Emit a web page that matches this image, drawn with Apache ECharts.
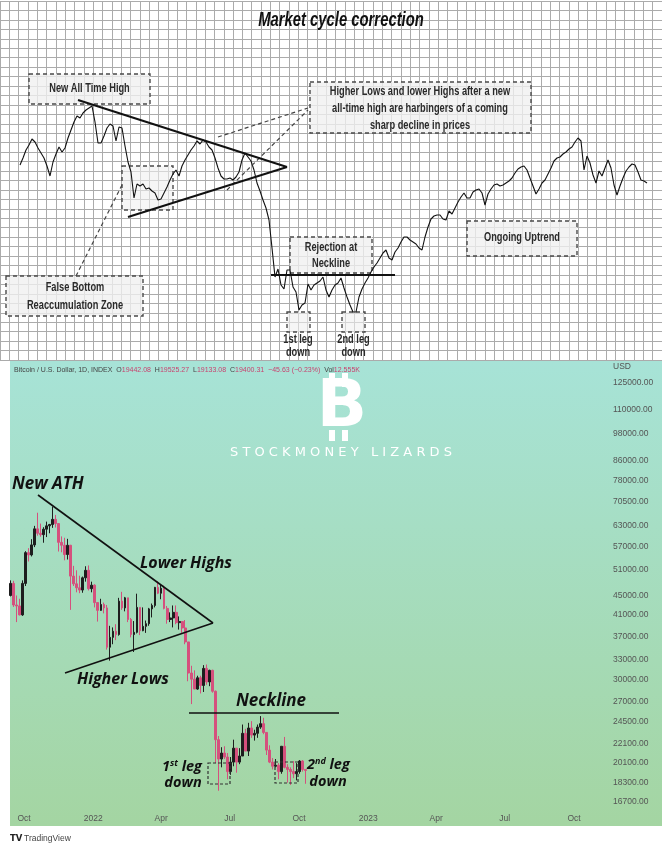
<!DOCTYPE html>
<html><head><meta charset="utf-8">
<script src="https://cdn.jsdelivr.net/npm/echarts@6/dist/echarts.min.js"></script>
<style>html,body{margin:0;padding:0;background:#fff}#c{width:662px;height:850px}</style>
</head><body><div id="c"></div>
<script>
// ---------- Top schematic chart: index level at equally spaced sessions ----------
const topLevels = [
 195,202,210,215,221,218,212,207,202,194,
 184,198,206,213,208,212,222,230,238,244,
 242,247,250,252,254,238,217,217,224,232,
 236,234,219,233,232,214,198,188,162,176,
 174,176,171,172,169,167,160,161,167,173,
 180,186,190,184,194,200,205,210,214,219,
 216,220,218,213,210,202,192,184,181,181,
 182,180,183,188,200,207,203,199,190,177,
 169,160,152,140,112,83,91,75,71,90,
 90,73,68,50,55,57,76,70,75,77,
 79,83,70,63,70,75,77,82,72,63,
 55,48,48,63,71,77,82,88,93,97,
 102,107,110,102,100,108,112,118,123,123,
 120,118,116,112,110,123,133,141,144,145,
 145,141,140,149,146,152,158,163,167,162,
 162,168,170,171,167,155,166,171,175,176,
 174,175,177,179,182,187,191,193,194,190,
 182,174,166,171,177,180,186,192,199,202,
 203,206,208,211,213,218,222,219,190,204,
 197,185,177,189,184,192,200,192,175,165,
 174,182,189,193,196,195,188,180,179,177
];

// ---------- Bitcoin candles (4-day periods) ----------
const btcDates = [
 '2021-09-13','2021-09-17','2021-09-21','2021-09-25','2021-09-29',
 '2021-10-03','2021-10-07','2021-10-11','2021-10-15','2021-10-19','2021-10-23','2021-10-27','2021-10-31',
 '2021-11-04','2021-11-08','2021-11-12','2021-11-16','2021-11-20','2021-11-24','2021-11-28',
 '2021-12-02','2021-12-06','2021-12-10','2021-12-14','2021-12-18','2021-12-22','2021-12-26','2021-12-30',
 '2022-01-03','2022-01-07','2022-01-11','2022-01-15','2022-01-19','2022-01-23','2022-01-27','2022-01-31',
 '2022-02-04','2022-02-08','2022-02-12','2022-02-16','2022-02-20','2022-02-24','2022-02-28',
 '2022-03-04','2022-03-08','2022-03-12','2022-03-16','2022-03-20','2022-03-24','2022-03-28',
 '2022-04-01','2022-04-05','2022-04-09','2022-04-13','2022-04-17','2022-04-21','2022-04-25','2022-04-29',
 '2022-05-03','2022-05-07','2022-05-11','2022-05-15','2022-05-19','2022-05-23','2022-05-27','2022-05-31',
 '2022-06-04','2022-06-08','2022-06-12','2022-06-16','2022-06-20','2022-06-24','2022-06-28',
 '2022-07-02','2022-07-06','2022-07-10','2022-07-14','2022-07-18','2022-07-22','2022-07-26','2022-07-30',
 '2022-08-03','2022-08-07','2022-08-11','2022-08-15','2022-08-19','2022-08-23','2022-08-27','2022-08-31',
 '2022-09-04','2022-09-08','2022-09-12','2022-09-16','2022-09-20','2022-09-24','2022-09-28',
 '2022-10-02','2022-10-06','2022-10-10'
];
// [open, close, low, high]
const btcOHLC = [
 [45000,47700,44800,48400],[47700,43000,42600,48300],[43000,42800,39600,45000],[42800,41000,40900,44300],[41000,47700,40800,48400],
 [47700,55300,47100,55700],[55300,54700,53000,56500],[54700,57400,54300,59000],[57400,62000,56800,62900],[62000,60700,60000,67000],[60700,60300,59700,63600],[60300,61900,58000,62500],[61900,62900,59600,64200],
 [62900,63300,60700,63500],[63300,64900,62300,69000],[64900,63600,62400,66300],[63600,58100,55600,63600],[58100,57300,55400,59800],[57300,54800,53300,59400],[54800,57300,53500,59100],
 [57300,49400,42000,57400],[49400,47600,47100,51900],[47600,46700,45700,50800],[46700,46200,45500,49500],[46200,49000,45600,49300],[49000,50800,48100,51800],[50800,46500,46100,52000],[46500,47300,45700,48100],
 [47300,43500,42500,47500],[43500,41900,39700,43500],[41900,43100,41800,44300],[43100,42400,41300,43500],[42400,35100,34700,43000],[35100,36800,32900,38900],[36800,37900,35600,38600],[37900,37300,36300,39200],
 [37300,43800,37100,44500],[43800,42400,42000,45800],[42400,44500,41700,44700],[44500,40100,39600,44500],[40100,37300,36800,40400],[37300,37700,34300,39800],[37700,42500,37500,45400],
 [42500,38000,37200,42500],[38000,38800,37900,42500],[38800,39300,37600,39900],[39300,42200,38900,42400],[42200,42900,40500,43300],[42900,46800,42500,46900],[46800,45500,45300,48200],
 [45500,46600,44200,47400],[46600,42300,42100,47200],[42300,40100,39300,42800],[40100,40400,39600,41500],[40400,41500,38600,42900],[41500,39500,39200,42900],[39500,39700,38200,40700],[39700,38500,37600,39800],
 [38500,36000,35600,40000],[36000,31000,29800,36000],[31000,30100,26700,32100],[30100,28700,28700,31400],[28700,30300,28600,30600],[30300,29200,28100,30600],[29200,31700,28300,32200],[31700,29700,29300,32300],
 [29700,31400,29100,31500],[31400,28400,28200,31500],[28400,22500,20100,28500],[22500,20500,17600,22900],[20500,21100,19700,21700],[21100,20700,20500,21800],[20700,19300,18600,21100],
 [19300,20200,19000,20700],[20200,21600,19800,22500],[21600,20200,19200,21600],[20200,20800,20000,21600],[20800,23200,20800,24200],[23200,21300,21300,23700],[21300,23800,20800,24400],[23800,23000,22700,24600],
 [23000,23200,22400,23600],[23200,23900,22700,24200],[23900,24300,23700,25200],[24300,23300,23100,25000],[23300,21400,20900,23300],[21400,20200,20100,21900],[20200,19800,19500,20600],[19800,19900,19700,20500],
 [19900,19300,18600,20100],[19300,21800,19100,21800],[21800,19700,19600,22800],[19700,19500,18300,20000],[19500,19300,18100,19700],[19300,19100,18700,20300],[19100,19300,18500,20100],
 [19300,20300,19100,20400],[20300,19500,19300,20400],[19500,19400,18200,19500]
];

const priceTicks = [125000,110000,98000,86000,78000,70500,63000,57000,51000,45000,41000,37000,33000,30000,27000,24500,22100,20100,18300,16700];
const timeTicks = ['2021-10-01','2022-01-01','2022-04-01','2022-07-01','2022-10-01','2023-01-01','2023-04-01','2023-07-01','2023-10-01'];
const monthNames = ['Jan','Feb','Mar','Apr','May','Jun','Jul','Aug','Sep','Oct','Nov','Dec'];

function localTs(s){ const p = s.split('-').map(Number); return new Date(p[0], p[1]-1, p[2]).getTime(); }
const xMin = new Date(2021, 8, 12, 10).getTime();
const xMax = new Date(2023, 10, 13, 19).getTime();

const COND = '"Liberation Sans", "Arimo", sans-serif';
const ITAL = '"Open Sans", "Noto Sans", sans-serif';

function dashBox(x, y, w, h, fill){
  return {type:'rect', z:1, shape:{x:x, y:y, width:w, height:h},
    style:{fill: fill === undefined ? 'rgba(240,240,240,0.78)' : fill, stroke:'#4a4a4a', lineWidth:1.4, lineDash:[4,3]}};
}
function label(x, y, text, extra, sx){
  return {type:'text', z:101, x:x, y:y, scaleX: sx || 0.74, style:Object.assign({text:text, align:'center', verticalAlign:'middle',
    fontFamily:COND, fontSize:12.5, fontWeight:'bold', fill:'#2a2a2a'}, extra || {})};
}
function seg(x1, y1, x2, y2, w, dash, color){
  return {type:'line', z:100, shape:{x1:x1, y1:y1, x2:x2, y2:y2},
    style:{stroke: color || '#111', lineWidth:w, lineDash: dash || null}};
}
function ital(x, y, text, size, align){
  return {type:'text', z:101, x:x, y:y, style:{text:text, align: align || 'left', verticalAlign:'middle',
    fontFamily:ITAL, fontSize:size, fontWeight:'bold', fontStyle:'italic', fill:'#111'}};
}

const graphics = [
  {type:'rect', z:-10, shape:{x:10, y:361, width:652, height:465},
   style:{fill:new echarts.graphic.LinearGradient(0,0,0,1,[{offset:0,color:'#a7e3d7'},{offset:1,color:'#a4d5a2'}])}},
  label(341, 21, 'Market cycle correction', {fontSize:19.5, fontStyle:'italic', fill:'#111'}, 0.76),
  dashBox(29, 74, 121, 30), label(89.5, 89, 'New All Time High'),
  dashBox(310, 82, 221, 51),
  label(420, 92, 'Higher Lows and lower Highs after a new'),
  label(420, 109, 'all-time high are harbingers of a coming'),
  label(420, 126, 'sharp decline in prices'),
  dashBox(122, 166, 51, 44, 'rgba(240,240,240,0.6)'),
  dashBox(6, 276, 137, 40), label(75, 288, 'False Bottom'), label(75, 306, 'Reaccumulation Zone'),
  dashBox(290, 237, 82, 36), label(331, 248, 'Rejection at'), label(331, 264, 'Neckline'),
  dashBox(287, 312, 23, 20, 'rgba(240,240,240,0.6)'), label(298, 340, '1st leg'), label(298, 353, 'down'),
  dashBox(342, 312, 23, 20, 'rgba(240,240,240,0.6)'), label(353.5, 340, '2nd leg'), label(353.5, 353, 'down'),
  dashBox(467, 221, 110, 35), label(522, 238, 'Ongoing Uptrend'),
  seg(218, 137, 308, 108, 1.2, [4,3], '#444'),
  seg(227, 190, 308, 110, 1.2, [4,3], '#444'),
  seg(122, 185, 76, 276, 1.2, [4,3], '#444'),
  seg(78, 100, 287, 167, 2),
  seg(128, 217, 287, 167, 2),
  seg(271, 275, 395, 275, 2),
  {type:'text', z:101, x:14, y:370, style:{
    text:'{g|Bitcoin / U.S. Dollar, 1D, INDEX  O}{r|19442.08}{g|  H}{r|19525.27}{g|  L}{r|19133.08}{g|  C}{r|19400.31}{r|  \u221245.63 (\u22120.23%)}{g|  Vol}{r|12.555K}',
    align:'left', verticalAlign:'middle', fontFamily:'"Liberation Sans", sans-serif', fontSize:7,
    rich:{g:{fill:'#444', fontSize:7, fontFamily:'"Liberation Sans", sans-serif'}, r:{fill:'#c8436f', fontSize:7, fontFamily:'"Liberation Sans", sans-serif'}}}},
  {type:'text', z:101, x:613, y:367, style:{text:'USD', align:'left', verticalAlign:'middle', fontFamily:'"Liberation Sans", sans-serif', fontSize:8.5, fill:'#555'}},
  {type:'text', z:50, x:342, y:409, style:{text:'B', align:'center', verticalAlign:'middle', fontFamily:'"DejaVu Sans", sans-serif', fontWeight:'bold', fontSize:66, fill:'#ffffff'}},
  {type:'rect', z:50, shape:{x:329, y:373, width:6, height:14}, style:{fill:'#ffffff'}},
  {type:'rect', z:50, shape:{x:342, y:373, width:6, height:14}, style:{fill:'#ffffff'}},
  {type:'rect', z:50, shape:{x:329, y:430, width:6, height:11}, style:{fill:'#ffffff'}},
  {type:'rect', z:50, shape:{x:342, y:430, width:6, height:11}, style:{fill:'#ffffff'}},
  {type:'text', z:50, x:341, y:453, style:{text:'S T O C K M O N E Y   L I Z A R D S', align:'center', verticalAlign:'middle', fontFamily:'"DejaVu Sans", sans-serif', fontSize:13, fill:'#ffffff'}},
  ital(12, 484, 'New ATH', 17),
  ital(140, 563, 'Lower Highs', 16),
  ital(77, 679, 'Higher Lows', 16),
  ital(236, 701, 'Neckline', 17),
  seg(38, 495, 213, 623, 1.6),
  seg(65, 673, 213, 623, 1.6),
  seg(189, 713, 339, 713, 1.6),
  {type:'rect', z:100, shape:{x:208, y:763, width:22, height:21}, style:{fill:null, stroke:'#333', lineWidth:1.2, lineDash:[3,2]}},
  {type:'rect', z:100, shape:{x:275, y:762, width:23, height:21}, style:{fill:null, stroke:'#333', lineWidth:1.2, lineDash:[3,2]}},
  {type:'text', z:101, x:182, y:767, style:{text:'{a|1}{s|st}{a| leg}', align:'center', verticalAlign:'middle',
    rich:{a:{fontFamily:ITAL, fontSize:14.5, fontWeight:'bold', fontStyle:'italic', fill:'#111'}, s:{fontFamily:ITAL, fontSize:9, fontWeight:'bold', fontStyle:'italic', fill:'#111', verticalAlign:'top', padding:[0,0,8,0]}}}},
  ital(183, 783, 'down', 14.5, 'center'),
  {type:'text', z:101, x:307, y:765, style:{text:'{a|2}{s|nd}{a| leg}', align:'left', verticalAlign:'middle',
    rich:{a:{fontFamily:ITAL, fontSize:14.5, fontWeight:'bold', fontStyle:'italic', fill:'#111'}, s:{fontFamily:ITAL, fontSize:9, fontWeight:'bold', fontStyle:'italic', fill:'#111', verticalAlign:'top', padding:[0,0,8,0]}}}},
  ital(328, 782, 'down', 14.5, 'center'),
  {type:'text', z:101, x:10, y:839, style:{text:'TV', align:'left', verticalAlign:'middle', fontFamily:'"DejaVu Sans", sans-serif', fontWeight:'bold', fontSize:8.5, fill:'#222'}},
  {type:'text', z:101, x:24, y:839, style:{text:'TradingView', align:'left', verticalAlign:'middle', fontFamily:'"Liberation Sans", sans-serif', fontSize:8.5, fill:'#444'}}
];

const hiddenAxis = {axisLine:{show:false}, axisTick:{show:false}, axisLabel:{show:false}};
const option = {
  animation:false,
  backgroundColor:'#ffffff',
  grid:[
    {left:-4.76, top:1, width:671.4, height:359, show:false},
    {left:20, top:0, width:627, height:360, show:false},
    {left:10, top:362, width:597, height:446, show:false}
  ],
  xAxis:[
    Object.assign({gridIndex:0, type:'value', min:0, max:71, interval:1, splitLine:{show:true, lineStyle:{color:'#ababab', width:1}}}, hiddenAxis),
    {gridIndex:1, type:'category', data:topLevels.map((_, i) => i), boundaryGap:false, show:false},
    {gridIndex:2, type:'value', min:xMin, max:xMax, axisLine:{show:false}, axisTick:{show:false}, splitLine:{show:false},
     axisLabel:{customValues: timeTicks.map(localTs), hideOverlap:false, color:'#555', fontSize:8.5, margin:6,
       fontFamily:'"Liberation Sans", sans-serif',
       formatter: v => { const d = new Date(v); return d.getMonth() === 0 ? String(d.getFullYear()) : monthNames[d.getMonth()]; }}}
  ],
  yAxis:[
    Object.assign({gridIndex:0, type:'value', min:0, max:38, interval:1, splitLine:{show:true, lineStyle:{color:'#ababab', width:1}}}, hiddenAxis),
    {gridIndex:1, type:'value', min:0, max:360, show:false},
    {gridIndex:2, type:'log', position:'right', min:16200, max:138300, axisLine:{show:false}, axisTick:{show:false}, splitLine:{show:false},
     axisLabel:{customValues: priceTicks, hideOverlap:false, color:'#555', fontSize:8.5, margin:6, align:'left',
       fontFamily:'"Liberation Sans", sans-serif', formatter: v => Number(v).toFixed(2)}}
  ],
  series:[
    {type:'line', xAxisIndex:1, yAxisIndex:1, data:topLevels, showSymbol:false, symbol:'none',
     lineStyle:{color:'#111', width:1.1}, z:3},
    {type:'candlestick', xAxisIndex:2, yAxisIndex:2, barWidth:2.2,
     encode:{x:0, y:[1,2,3,4]},
     data: btcDates.map((d, i) => [localTs(d)].concat(btcOHLC[i])),
     itemStyle:{color:'#1e1e1e', color0:'#d5507d', borderColor:'#1e1e1e', borderColor0:'#d5507d', borderWidth:1}}
  ],
  graphic:{elements:graphics}
};
const chart = echarts.init(document.getElementById('c'), null, {width:662, height:850});
chart.setOption(option);
</script>
</body></html>
